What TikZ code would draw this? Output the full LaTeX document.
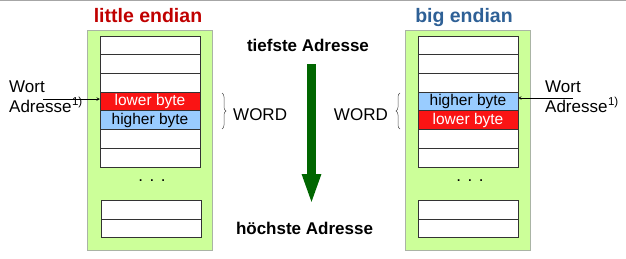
\documentclass[tikz,border=0pt]{standalone}
\usepackage{fontspec}
\setmainfont{Liberation Sans}
\usetikzlibrary{arrows.meta, positioning, decorations.pathreplacing}

\definecolor{memgreen}{RGB}{204,255,153}
\definecolor{memframe}{RGB}{170,180,165}
\definecolor{bytered}{RGB}{250,20,20}
\definecolor{byteblue}{RGB}{153,204,255}
\definecolor{titlered}{RGB}{192,0,0}
\definecolor{titleblue}{RGB}{46,96,150}
\definecolor{flowgreen}{RGB}{0,102,0}

\begin{document}
\begin{tikzpicture}[>=stealth, x=1pt, y=1pt, node distance=0pt]
	\tikzstyle{mem} = [draw=memframe, fill=memgreen, minimum width=125pt, minimum height=220pt, inner sep=0pt]
	\tikzstyle{cell} = [draw=black!80, fill=white, line width=0.7pt, minimum width=100pt, minimum height=18.7pt, inner sep=0pt, outer sep=0pt, font=\fontsize{15.5}{15.5}\selectfont]
	\tikzstyle{lobyte} = [cell, fill=bytered, text=white]
	\tikzstyle{hibyte} = [cell, fill=byteblue]
	\tikzstyle{txt} = [inner sep=0pt, font=\fontsize{17}{20}\selectfont]
	\tikzstyle{heading} = [inner sep=0pt, font=\bfseries\fontsize{19.5}{22}\selectfont]
	\tikzstyle{brace} = [decorate, decoration={brace, amplitude=4pt}, black!70, line width=0.5pt]
	\newcommand{\fn}{\hspace{0.5pt}\raisebox{6.5pt}{\fontsize{11.5}{11.5}\selectfont 1)}}

	\useasboundingbox (0,0) rectangle (626,258);
	\draw[black!35, line width=1.2pt] (0,257.6) -- (626,257.6);

	% little endian
	\begin{scope}
		\node[heading, text=titlered, anchor=base] (ltitle) at (148,236) {little endian};
		\node[mem] (lmem) at (149.5,118) {};
		\node[cell] (l1) at (150,212.65) {};
		\node[cell, below=of l1] (l2) {};
		\node[cell, below=of l2] (l3) {};
		\node[lobyte, below=of l3] (l4) {lower byte};
		\node[hibyte, below=of l4] (l5) {higher byte};
		\node[cell, below=of l5] (l6) {};
		\node[cell, below=of l6] (l7) {};
		\node[txt] (ldots) at (152,77) {.\hspace{6.5pt}.\hspace{6.5pt}.};
		\node[cell] (l8) at (151,48.5) {};
		\node[cell, below=of l8] (l9) {};

		\node[txt, anchor=base west] (lwort) at (9,166) {Wort};
		\node[txt, anchor=base west] (ladr) at (9,146) {Adresse\fn};
		\coordinate (lptr) at (43,159);
		\draw[->, line width=0.6pt] (lptr) -- (lptr -| l4.west);

		\draw[brace] (222,165) -- (222,129);
		\node[txt, anchor=base west] (lword) at (233,138) {WORD};
	\end{scope}

	% address direction
	\begin{scope}
		\node[txt, font=\bfseries\fontsize{17}{20}\selectfont, anchor=base] (low) at (308,207) {tiefste Adresse};
		\node[txt, font=\bfseries\fontsize{17}{20}\selectfont, anchor=base] (high) at (304.5,24) {höchste Adresse};
		\coordinate (dstart) at (311.5,194);
		\coordinate (dend) at (311.5,53);
		\draw[flowgreen, line width=9pt, -{Triangle[width=17pt, length=31pt]}] (dstart) -- (dend);
	\end{scope}

	% big endian
	\begin{scope}
		\node[heading, text=titleblue, anchor=base] (rtitle) at (464,236) {big endian};
		\node[mem] (rmem) at (467.5,118) {};
		\node[cell] (r1) at (468,212.65) {};
		\node[cell, below=of r1] (r2) {};
		\node[cell, below=of r2] (r3) {};
		\node[hibyte, below=of r3] (r4) {higher byte};
		\node[lobyte, below=of r4] (r5) {lower byte};
		\node[cell, below=of r5] (r6) {};
		\node[cell, below=of r6] (r7) {};
		\node[txt] (rdots) at (470,77) {.\hspace{6.5pt}.\hspace{6.5pt}.};
		\node[cell] (r8) at (468.5,48.5) {};
		\node[cell, below=of r8] (r9) {};

		\node[txt, anchor=base west] (rwort) at (545,166) {Wort};
		\node[txt, anchor=base west] (radr) at (545,146) {Adresse\fn};
		\coordinate (rptr) at (573,160);
		\draw[->, line width=0.6pt] (rptr) -- (rptr -| r4.east);

		\draw[brace] (400,129) -- (400,165);
		\node[txt, anchor=base east] (rword) at (388,138) {WORD};
	\end{scope}
\end{tikzpicture}
\end{document}
